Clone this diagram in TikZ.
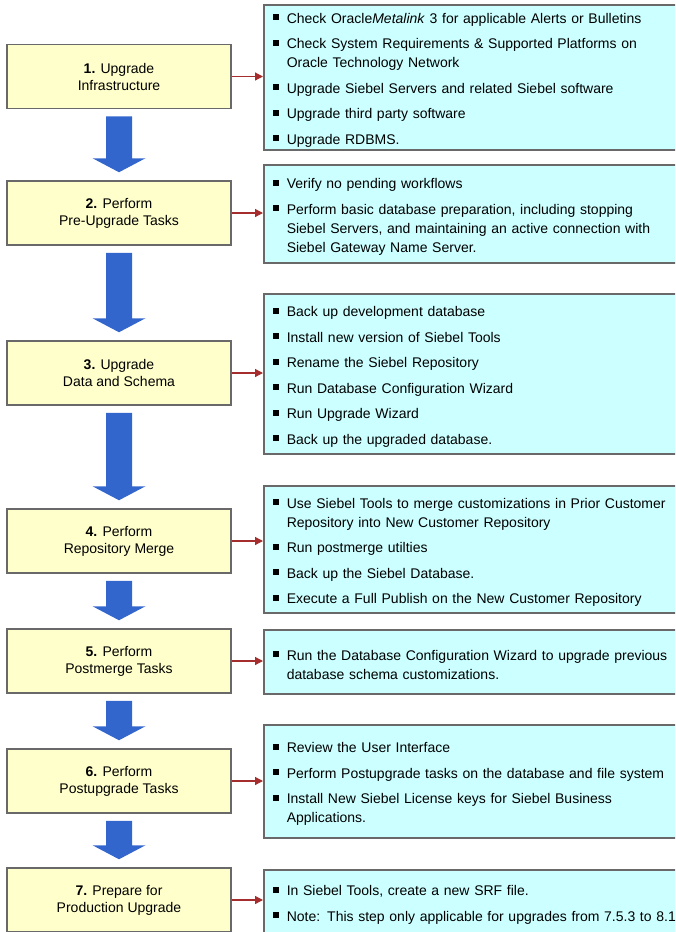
\documentclass[tikz,border=0pt]{standalone}
\usepackage{fontspec}
\setmainfont{Liberation Sans}
\usetikzlibrary{arrows.meta,positioning,calc}
\definecolor{cyel}{RGB}{255,255,204}
\definecolor{ccyan}{RGB}{204,255,255}
\definecolor{cblue}{RGB}{51,102,204}
\definecolor{cred}{RGB}{165,45,45}
\definecolor{cline}{RGB}{105,105,105}
\tikzset{stepbox/.style={draw=cline, line width=1.5pt, fill=cyel, minimum width=224pt, minimum height=64pt, align=center, inner sep=0pt, font=\fontsize{14}{17}\selectfont}}
\tikzset{taskbox/.style={draw=cline, line width=1.5pt, fill=ccyan, anchor=north west, text width=430pt, inner xsep=9pt, inner ysep=0pt, align=left, font=\fontsize{14}{19}\selectfont, execute at begin node={\setlength{\parskip}{6.5pt}}}}
\tikzset{link/.style={-{Triangle[length=8pt,width=8pt]}, line width=1.2pt, cred}}
\newcommand{\bul}{\noindent\hangindent=14pt\hangafter=1\makebox[14pt][l]{\rule[3pt]{6pt}{6pt}}}
\newcommand{\listend}{\par\kern-6pt\nointerlineskip\vbox{}}
\newcommand{\flow}[2]{\fill[cblue] ($(#1.south)+(-13,7)$) -- ($(#1.south)+(13,7)$) -- ($(#2.north)+(13,-22)$) -- ($(#2.north)+(26.5,-22)$) -- ($(#2.north)+(0,-8)$) -- ($(#2.north)+(-26.5,-22)$) -- ($(#2.north)+(-13,-22)$) -- cycle;}

\begin{document}
\begin{tikzpicture}[x=1pt, y=-1pt]
        \path[use as bounding box, clip] (0,0) rectangle (675,932);

        %%% STEPS %%%
        \node[stepbox] (s1) at (119,76.5) {\textbf{1.} Upgrade\\Infrastructure};
        \node[stepbox] (s2) at (119,213) {\textbf{2.} Perform\\Pre-Upgrade Tasks};
        \node[stepbox] (s3) at (119,373) {\textbf{3.} Upgrade\\Data and Schema};
        \node[stepbox] (s4) at (119,541) {\textbf{4.} Perform\\Repository Merge};
        \node[stepbox] (s5) at (119,661) {\textbf{5.} Perform\\Postmerge Tasks};
        \node[stepbox] (s6) at (119,781) {\textbf{6.} Perform\\Postupgrade Tasks};
        \node[stepbox] (s7) at (119,900) {\textbf{7.} Prepare for\\Production Upgrade};

        %%% TASK LISTS %%%
        \node[taskbox, minimum height=145pt] (t1) at (263,4)
            {\bul Check Oracle\textit{Metalink} 3 for applicable Alerts or Bulletins\par
             \bul Check System Requirements \& Supported Platforms on\newline Oracle Technology Network\par
             \bul Upgrade Siebel Servers and related Siebel software\par
             \bul Upgrade third party software\par
             \bul Upgrade RDBMS.\listend};
        \node[taskbox, minimum height=98pt] (t2) at (263,164)
            {\bul Verify no pending workflows\par
             \bul Perform basic database preparation, including stopping\newline Siebel Servers, and maintaining an active connection with\newline Siebel Gateway Name Server.\listend};
        \node[taskbox, minimum height=160pt] (t3) at (263,293)
            {\bul Back up development database\par
             \bul Install new version of Siebel Tools\par
             \bul Rename the Siebel Repository\par
             \bul Run Database Configuration Wizard\par
             \bul Run Upgrade Wizard\par
             \bul Back up the upgraded database.\listend};
        \node[taskbox, minimum height=127pt] (t4) at (263,485)
            {\bul Use Siebel Tools to merge customizations in Prior Customer\newline Repository into New Customer Repository\par
             \bul Run postmerge utilties\par
             \bul Back up the Siebel Database.\par
             \bul Execute a Full Publish on the New Customer Repository\listend};
        \node[taskbox, minimum height=64pt] (t5) at (263,629)
            {\bul Run the Database Configuration Wizard to upgrade previous\newline database schema customizations.\listend};
        \node[taskbox, minimum height=113pt] (t6) at (263,724)
            {\bul Review the User Interface\par
             \bul Perform Postupgrade tasks on the database and file system\par
             \bul Install New Siebel License keys for Siebel Business\newline Applications.\listend};
        \node[taskbox, minimum height=64pt] (t7) at (263,869)
            {\bul In Siebel Tools, create a new SRF file.\par
             \bul Note: This step only applicable for upgrades from 7.5.3 to 8.1\listend};

        %%% ARROWS %%%
        \foreach \i in {1,...,7}
            \draw[link] (s\i.east) -- (s\i.east -| t\i.west);
        \flow{s1}{s2}
        \flow{s2}{s3}
        \flow{s3}{s4}
        \flow{s4}{s5}
        \flow{s5}{s6}
        \flow{s6}{s7}
\end{tikzpicture}
\end{document}
